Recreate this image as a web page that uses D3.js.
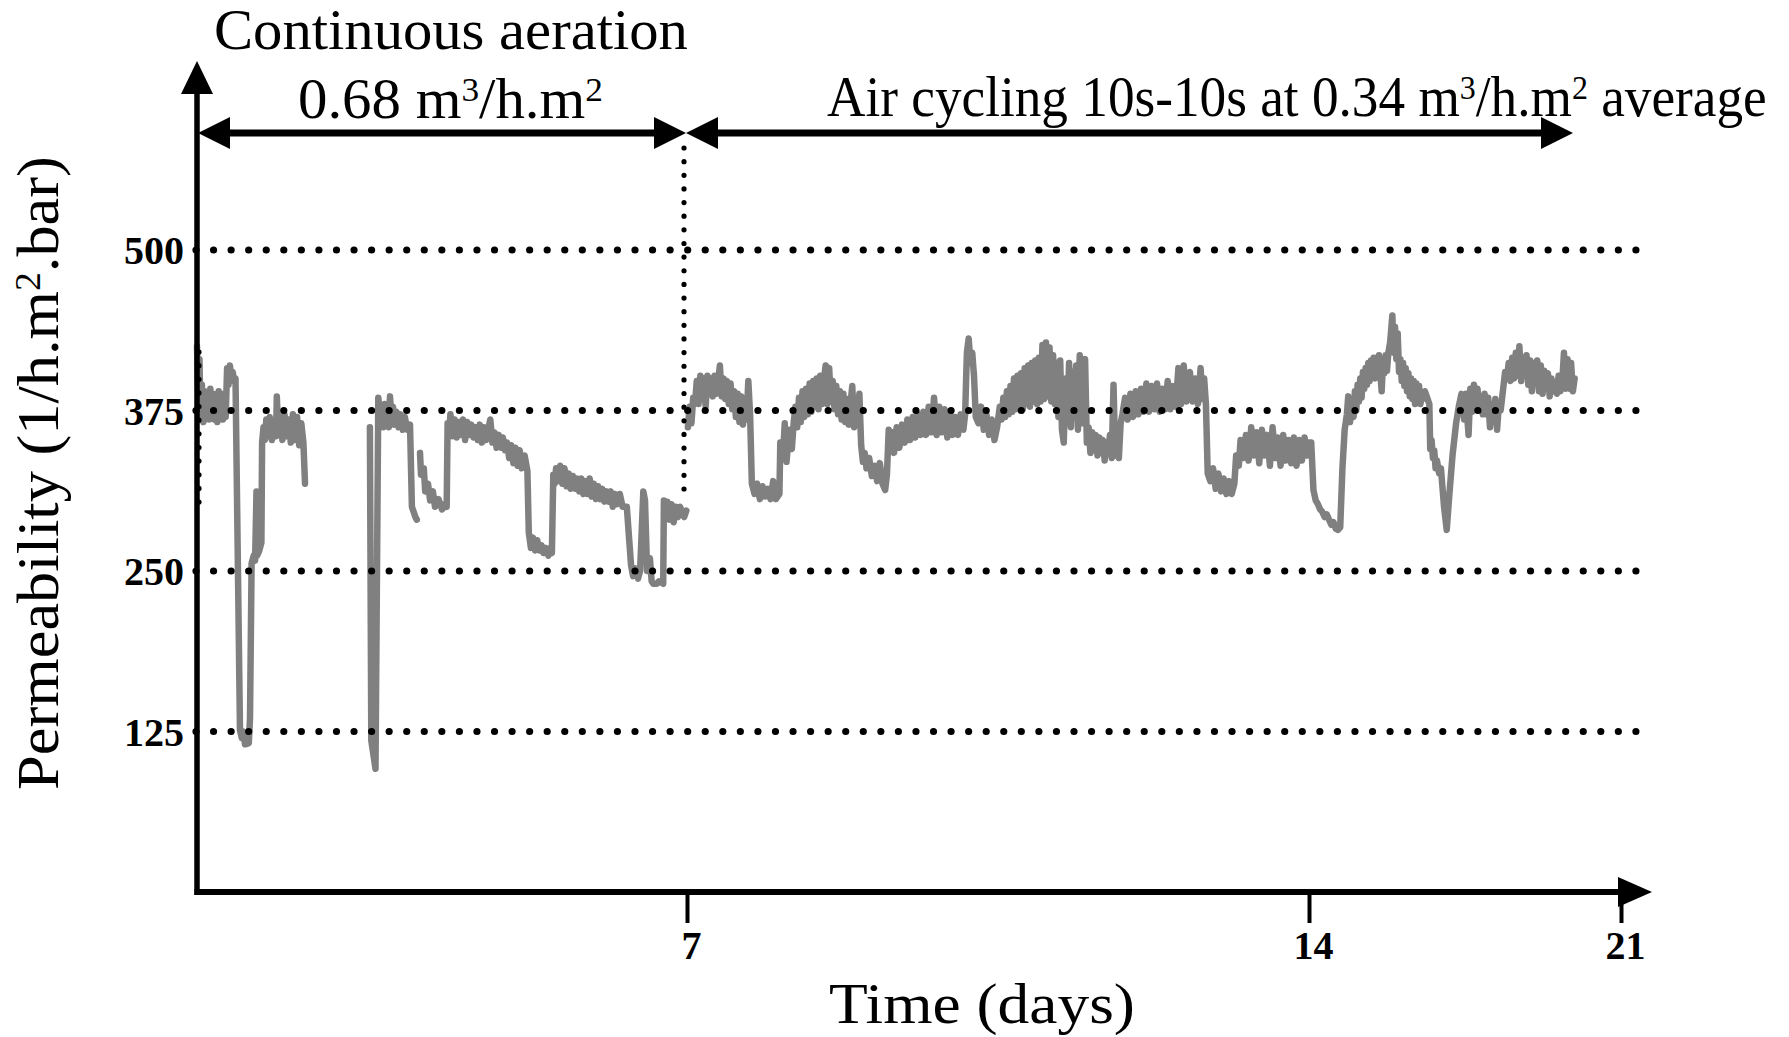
<!DOCTYPE html>
<html><head><meta charset="utf-8">
<script src="https://cdn.jsdelivr.net/npm/d3@7"></script>
<style>
html,body{margin:0;padding:0;background:#fff;}
svg{display:block;}
text{font-family:"Liberation Serif","Times New Roman",Tinos,serif;fill:#000;}
</style></head><body>
<svg id="chart" width="1789" height="1037"></svg>
<script>
// ---------- data ----------
const xTickValues = [7, 14, 21];
const xTickLabels = ["7", "14", "21"];
const yTickValues = [125, 250, 375, 500];
const yTickLabels = ["125", "250", "375", "500"];
const phaseChangeDay = 7;
const yAxisTitle = [["Permeability (1/h.m", false], ["2", true], [".bar)", false]];
const xAxisTitle = [["Time (days)", false]];
const phase1Title = [["Continuous aeration", false]];
const phase1Rate = [["0.68 m", false], ["3", true], ["/h.m", false], ["2", true]];
const phase2Title = [["Air cycling 10s-10s at 0.34 m", false], ["3", true], ["/h.m", false], ["2", true], [" average", false]];

// [day, permeability]; null marks a gap in the record
const permeability = [
[0.00,425],[0.02,380],[0.035,415],[0.05,372],[0.07,395],[0.09,366],[0.11,390],[0.13,370],[0.15,385],[0.17,368],[0.19,392],[0.21,372],[0.23,388],[0.25,368],[0.27,386],[0.29,366],[0.31,390],[0.33,370],[0.35,388],[0.37,368],[0.39,385],[0.41,370],[0.43,408],[0.45,395],[0.47,410],[0.49,400],[0.51,405],[0.53,398],[0.55,400],[0.614,126],[0.64,120],[0.66,125],[0.686,115],[0.74,116],[0.757,135],[0.78,256],[0.81,262],[0.83,258],[0.85,312],[0.86,262],[0.89,266],[0.92,272],[0.93,350],[0.95,362],[0.97,352],[0.99,368],[1.01,355],[1.04,370],[1.07,352],[1.10,365],[1.13,355],[1.14,386],[1.16,360],[1.19,370],[1.22,352],[1.25,372],[1.28,355],[1.31,368],[1.34,350],[1.37,372],[1.40,352],[1.43,370],[1.46,348],[1.49,365],[1.52,350],[1.543,318],[1.55,null],
[2.47,362],[2.49,118],[2.55,96],[2.59,385],[2.62,368],[2.64,378],[2.66,362],[2.68,380],[2.70,366],[2.72,374],[2.74,362],[2.757,386],[2.78,368],[2.80,378],[2.82,364],[2.85,374],[2.88,362],[2.91,372],[2.94,360],[2.97,370],[3.0,360],[3.043,364],[3.07,300],[3.12,292],[3.14,290],[3.15,null],
[3.186,342],[3.20,325],[3.24,330],[3.26,312],[3.30,318],[3.33,305],[3.37,312],[3.40,300],[3.45,306],[3.50,298],[3.54,302],[3.567,300],
[3.58,365],[3.60,355],[3.62,372],[3.65,355],[3.68,368],[3.71,354],[3.74,366],[3.77,356],[3.80,368],[3.83,352],[3.86,366],[3.89,356],[3.92,364],[3.95,354],[3.98,362],[4.01,352],[4.04,364],[4.07,350],[4.10,362],[4.13,352],[4.16,360],[4.19,368],[4.22,350],[4.25,358],[4.28,346],[4.31,356],[4.34,346],[4.37,354],[4.40,344],[4.43,350],[4.46,338],[4.49,348],[4.52,334],[4.55,346],[4.58,332],[4.61,344],[4.64,330],[4.68,340],[4.72,328],[4.74,280],[4.77,268],[4.80,276],[4.83,266],[4.86,274],[4.89,266],[4.92,270],[4.95,264],[4.98,268],[5.02,262],[5.05,268],[5.07,264],
[5.09,325],[5.11,318],[5.13,330],[5.16,320],[5.19,332],[5.22,318],[5.25,330],[5.28,316],[5.31,326],[5.34,314],[5.37,324],[5.40,314],[5.43,322],[5.46,312],[5.49,322],[5.52,310],[5.55,320],[5.58,310],[5.61,322],[5.64,308],[5.67,318],[5.70,306],[5.73,316],[5.76,306],[5.79,314],[5.82,304],[5.85,312],[5.88,304],[5.91,312],[5.94,300],[5.97,310],[6.0,302],[6.04,310],[6.08,300],[6.14,300],[6.20,255],[6.23,246],[6.26,252],[6.30,244],[6.33,250],[6.376,312],[6.40,305],[6.43,250],[6.47,260],[6.495,242],[6.52,240],[6.567,240],[6.60,242],[6.66,240],[6.67,305],[6.70,292],[6.72,304],[6.75,290],[6.78,302],[6.81,288],[6.84,300],[6.87,292],[6.90,300],[6.93,296],[6.96,292],[6.99,297],[7.0,null],
[7.01,362],[7.03,378],[7.05,365],[7.07,385],[7.09,380],[7.11,398],[7.13,380],[7.15,402],[7.17,384],[7.19,400],[7.21,378],[7.23,402],[7.25,388],[7.27,400],[7.29,386],[7.31,402],[7.33,388],[7.35,398],[7.37,410],[7.39,386],[7.41,400],[7.43,384],[7.45,398],[7.47,380],[7.49,396],[7.51,376],[7.53,390],[7.55,370],[7.57,388],[7.59,366],[7.61,386],[7.63,364],[7.65,384],[7.67,368],[7.69,398],[7.71,372],[7.73,318],[7.76,310],[7.79,318],[7.82,306],[7.85,316],[7.88,308],[7.91,314],[7.94,306],[7.97,320],[8.0,306],[8.04,310],[8.05,350],[8.08,340],[8.10,365],[8.12,335],[8.15,360],[8.18,345],[8.20,365],[8.22,378],[8.24,362],[8.26,385],[8.28,366],[8.30,390],[8.32,370],[8.34,392],[8.36,372],[8.38,396],[8.40,374],[8.42,398],[8.44,378],[8.46,400],[8.48,376],[8.50,402],[8.52,380],[8.54,398],[8.56,410],[8.58,380],[8.60,408],[8.62,382],[8.64,398],[8.66,376],[8.68,394],[8.70,372],[8.72,390],[8.74,368],[8.76,388],[8.78,366],[8.80,384],[8.82,364],[8.84,380],[8.86,394],[8.88,362],[8.90,380],[8.92,368],[8.94,388],[8.96,348],[8.98,335],[9.0,342],[9.02,330],[9.05,338],[9.08,324],[9.11,332],[9.14,320],[9.17,334],[9.20,318],[9.23,313],[9.25,325],[9.27,360],[9.29,345],[9.31,358],[9.33,342],[9.36,362],[9.39,346],[9.42,364],[9.45,350],[9.48,368],[9.51,352],[9.54,370],[9.57,354],[9.60,372],[9.63,356],[9.66,374],[9.69,356],[9.72,378],[9.75,358],[9.78,385],[9.81,356],[9.84,378],[9.87,358],[9.90,376],[9.93,354],[9.96,374],[9.99,356],[10.02,370],[10.05,356],[10.08,372],[10.11,360],[10.13,372],[10.15,420],[10.17,431],[10.19,412],[10.21,420],[10.23,402],[10.25,370],[10.28,365],[10.31,378],[10.34,360],[10.37,372],[10.40,356],[10.43,368],[10.46,352],[10.49,362],[10.52,378],[10.54,368],[10.56,385],[10.58,370],[10.60,390],[10.62,372],[10.64,394],[10.66,374],[10.68,400],[10.70,376],[10.72,402],[10.74,378],[10.76,404],[10.78,376],[10.80,408],[10.82,380],[10.84,410],[10.86,378],[10.88,412],[10.90,382],[10.92,414],[10.94,380],[10.96,416],[10.98,382],[11.00,426],[11.02,384],[11.04,428],[11.06,386],[11.08,424],[11.10,382],[11.12,418],[11.14,380],[11.16,412],[11.18,370],[11.20,414],[11.22,360],[11.24,350],[11.26,400],[11.28,365],[11.30,412],[11.32,362],[11.34,405],[11.36,370],[11.38,410],[11.40,360],[11.42,418],[11.44,365],[11.46,405],[11.48,415],[11.50,350],[11.52,362],[11.54,342],[11.56,358],[11.58,344],[11.60,356],[11.62,340],[11.64,354],[11.66,342],[11.68,352],[11.70,336],[11.72,350],[11.74,342],[11.76,356],[11.78,338],[11.80,395],[11.82,340],[11.84,352],[11.86,338],[11.88,365],[11.90,372],[11.93,385],[11.96,368],[11.99,388],[12.02,370],[12.05,390],[12.08,372],[12.11,392],[12.14,374],[12.17,396],[12.20,374],[12.23,394],[12.26,376],[12.29,396],[12.32,374],[12.35,392],[12.38,376],[12.41,398],[12.44,376],[12.47,394],[12.50,378],[12.53,408],[12.56,380],[12.59,410],[12.62,382],[12.66,405],[12.69,382],[12.72,400],[12.75,380],[12.78,408],[12.80,384],[12.82,400],[12.84,380],[12.86,326],[12.89,320],[12.92,330],[12.95,314],[12.98,326],[13.01,312],[13.04,322],[13.07,310],[13.10,320],[13.13,310],[13.16,318],[13.18,340],[13.21,332],[13.23,352],[13.26,338],[13.29,356],[13.32,336],[13.35,362],[13.38,340],[13.41,358],[13.44,334],[13.47,360],[13.50,340],[13.53,356],[13.56,332],[13.59,362],[13.62,338],[13.65,354],[13.68,332],[13.71,356],[13.74,336],[13.77,352],[13.80,334],[13.83,354],[13.86,332],[13.89,352],[13.92,336],[13.95,354],[13.98,340],[14.0,350],[14.05,350],[14.10,313],[14.15,305],[14.20,302],[14.25,298],[14.30,296],[14.35,292],[14.40,294],[14.45,290],[14.50,286],[14.55,288],[14.60,283],[14.65,282],[14.70,284],[14.75,330],[14.80,360],[14.85,372],[14.88,386],[14.92,366],[14.96,380],[15.0,370],[15.03,390],[15.06,375],[15.09,395],[15.12,382],[15.15,400],[15.18,385],[15.21,405],[15.24,392],[15.27,408],[15.30,395],[15.33,412],[15.36,398],[15.39,414],[15.42,402],[15.45,416],[15.48,400],[15.51,416],[15.54,404],[15.57,418],[15.60,404],[15.63,390],[15.66,412],[15.69,404],[15.72,418],[15.75,406],[15.78,420],[15.82,428],[15.87,449],[15.90,420],[15.93,440],[15.96,415],[15.99,435],[16.02,405],[16.05,415],[16.08,398],[16.11,412],[16.14,394],[16.17,408],[16.20,390],[16.23,404],[16.26,386],[16.29,400],[16.32,384],[16.35,398],[16.38,380],[16.41,396],[16.44,382],[16.47,394],[16.50,380],[16.53,388],[16.56,384],[16.60,390],[16.65,385],[16.70,380],[16.72,345],[16.75,352],[16.78,338],[16.81,344],[16.84,330],[16.87,336],[16.92,326],[16.96,330],[17.03,300],[17.09,282],[17.15,310],[17.22,340],[17.30,365],[17.36,378],[17.42,388],[17.48,368],[17.52,388],[17.55,370],[17.58,356],[17.62,392],[17.66,374],[17.70,395],[17.74,376],[17.78,392],[17.82,378],[17.86,386],[17.90,372],[17.94,388],[17.98,372],[18.02,385],[18.06,362],[18.10,380],[18.14,366],[18.18,384],[18.22,360],[18.26,380],[18.30,375],[18.35,390],[18.40,405],[18.44,400],[18.48,412],[18.52,398],[18.56,416],[18.60,400],[18.64,420],[18.68,402],[18.72,425],[18.76,398],[18.80,416],[18.84,402],[18.88,418],[18.92,395],[18.96,414],[19.0,390],[19.04,412],[19.08,398],[19.12,414],[19.16,390],[19.20,410],[19.24,388],[19.28,406],[19.32,392],[19.36,404],[19.40,386],[19.44,400],[19.48,390],[19.52,396],[19.56,388],[19.60,402],[19.64,390],[19.68,396],[19.72,420],[19.76,392],[19.80,415],[19.84,392],[19.88,412],[19.92,390],[19.96,400]
];

// ---------- scales ----------
const svg = d3.select("#chart");
// the original time axis is drawn with unequal week spacing
const x = d3.scaleLinear().domain([0, 7, 14, 21]).range([197, 687, 1309, 1621]);
const y = d3.scaleLinear().domain([0, 500]).range([892, 250]);

const gridStart = 196, gridEnd = 1636.6;
const x0 = x(0), yBase = y(0);

// ---------- data line ----------
const line = d3.line()
  .defined(d => d[1] != null)
  .x(d => x(d[0]))
  .y(d => y(d[1]));
svg.append("path")
  .datum(permeability)
  .attr("d", line)
  .attr("fill", "none")
  .attr("stroke", "#808080")
  .attr("stroke-width", 6.5)
  .attr("stroke-linejoin", "round")
  .attr("stroke-linecap", "round");

// ---------- gridlines (dotted) ----------
svg.append("g").selectAll("line").data(yTickValues).join("line")
  .attr("x1", gridStart).attr("x2", gridEnd)
  .attr("y1", d => y(d)).attr("y2", d => y(d))
  .attr("stroke", "#000").attr("stroke-width", 7.2)
  .attr("stroke-linecap", "round")
  .attr("stroke-dasharray", "0 17.56");

// vertical dotted markers at start and at phase change
function vDots(xp, y1, y2) {
  svg.append("line")
    .attr("x1", xp).attr("x2", xp).attr("y1", y1).attr("y2", y2)
    .attr("stroke", "#000").attr("stroke-width", 5.2)
    .attr("stroke-linecap", "round")
    .attr("stroke-dasharray", "0 13.64");
}
vDots(x(phaseChangeDay) - 3, 148, 492);
vDots(x0 + 2, 352, 504);

// ---------- axes ----------
const yAxis = d3.axisLeft(y).tickValues(yTickValues)
  .tickFormat((d, i) => yTickLabels[i]).tickSize(0).tickPadding(13);
const gy = svg.append("g").attr("transform", `translate(${x0},0)`).call(yAxis);
gy.select(".domain").remove();
gy.attr("font-family", null).attr("font-size", null);
gy.selectAll(".tick text").attr("font-size", 40).attr("font-weight", "bold")
  .attr("dy", "0.34em");

const xAxis = d3.axisBottom(x).tickValues(xTickValues)
  .tickFormat((d, i) => xTickLabels[i]).tickSize(31).tickPadding(8);
const gx = svg.append("g").attr("transform", `translate(0,${yBase})`).call(xAxis);
gx.select(".domain").remove();
gx.attr("font-family", null).attr("font-size", null);
gx.selectAll(".tick line").attr("stroke", "#000").attr("stroke-width", 4);
gx.selectAll(".tick text").attr("font-size", 40).attr("font-weight", "bold").attr("dx", 4);

// axis lines with arrow heads
svg.append("line").attr("x1", x0).attr("x2", x0).attr("y1", yBase + 3).attr("y2", 90)
  .attr("stroke", "#000").attr("stroke-width", 5.5);
svg.append("path").attr("d", `M${x0},61 L${x0 - 16},94 L${x0 + 16},94 Z`).attr("fill", "#000");
svg.append("line").attr("x1", x0 - 2.5).attr("x2", 1622).attr("y1", yBase).attr("y2", yBase)
  .attr("stroke", "#000").attr("stroke-width", 6);
svg.append("path").attr("d", `M1652,${yBase} L1618,${yBase - 15} L1618,${yBase + 15} Z`).attr("fill", "#000");

// ---------- phase arrows ----------
const arrowY = 133;
const xc = x(phaseChangeDay) - 1;
function hArrow(xa, xb, leftHead, rightHead) {
  svg.append("line").attr("x1", xa + (leftHead ? 20 : 0)).attr("x2", xb - (rightHead ? 20 : 0))
    .attr("y1", arrowY).attr("y2", arrowY).attr("stroke", "#000").attr("stroke-width", 7);
  if (leftHead) svg.append("path").attr("d", `M${xa},${arrowY} L${xa + 32},${arrowY - 16} L${xa + 32},${arrowY + 16} Z`).attr("fill", "#000");
  if (rightHead) svg.append("path").attr("d", `M${xb},${arrowY} L${xb - 32},${arrowY - 16} L${xb - 32},${arrowY + 16} Z`).attr("fill", "#000");
}
hArrow(x0 + 1, xc, true, true);
hArrow(xc, 1573, true, true);

// ---------- titles ----------
function richText(parts, size, tx, ty, target, rot) {
  const t = svg.append("text").attr("font-size", size).attr("x", 0).attr("y", 0);
  let raised = false;
  parts.forEach(([s, sup]) => {
    const ts = t.append("tspan").text(s);
    if (sup && !raised) { ts.attr("font-size", size * 0.6).attr("dy", -size * 0.3); raised = true; }
    else if (sup) { ts.attr("font-size", size * 0.6); }
    else if (!sup && raised) { ts.attr("dy", size * 0.3); raised = false; }
  });
  const w = t.node().getComputedTextLength();
  const sx = target / w;
  t.attr("transform", `translate(${tx},${ty}) rotate(${rot || 0}) scale(${sx},1)`);
  return t;
}
richText(phase1Title, 56, 214, 49, 474);
richText(phase1Rate, 56, 298, 118, 305);
richText(phase2Title, 56, 827, 116, 940);
richText(xAxisTitle, 58, 829, 1023, 306);
richText(yAxisTitle, 60, 58, 790, 634, -90);
</script>
</body></html>
